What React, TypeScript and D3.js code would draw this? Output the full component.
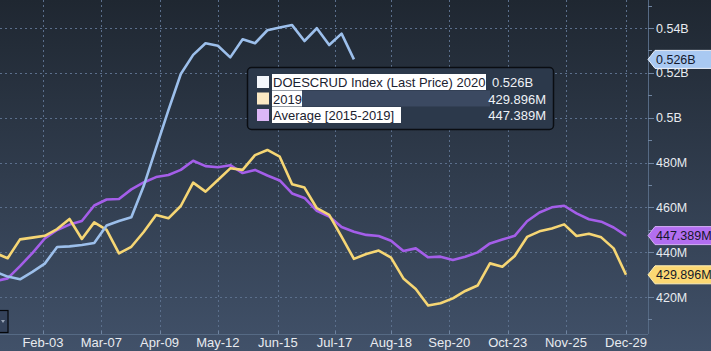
import * as d3 from 'd3';

// weekly readings, first point Jan-07 (just off the left edge)
const weekStart = new Date(2020, 0, 7);

const crude2020 = [431.2, 429.1, 427.9, 431.2, 434.9, 442.3, 442.6, 443.2, 444.1, 451.9, 453.9, 455.6,
  469.5, 486.5, 503.4, 519.5, 528.0, 533.2, 532.1, 526.9, 535.0, 533.2, 539.0, 540.2, 541.3, 534.2,
  539.9, 532.4, 537.5, 526.0];

const crude2019 = [439.6, 437.3, 445.7, 446.5, 447.3, 450.3, 454.8, 445.9, 453.3, 449.9, 439.5, 442.4,
  449.0, 456.6, 455.1, 460.6, 471.0, 467.0, 472.2, 477.4, 476.7, 483.3, 485.6, 482.6, 470.3, 468.8,
  459.6, 456.6, 446.9, 437.0, 439.2, 440.7, 437.6, 428.3, 423.6, 416.2, 417.2, 419.4, 422.7, 425.1,
  435.0, 433.5, 438.3, 446.8, 449.3, 450.6, 452.4, 447.2, 448.2, 446.6, 441.7, 429.896];

const average = [427.1, 428.3, 433.8, 439.6, 446.1, 449.9, 452.3, 453.9, 460.8, 463.5, 463.7, 468.0,
  471.1, 473.5, 474.4, 476.7, 480.8, 478.4, 477.9, 478.8, 475.3, 476.7, 474.2, 472.0, 466.2, 464.2,
  458.4, 455.9, 451.2, 449.1, 447.7, 447.2, 445.1, 440.5, 441.7, 437.7, 438.0, 436.5, 438.0, 439.9,
  443.9, 445.6, 447.3, 453.8, 457.7, 460.0, 460.7, 457.3, 454.7, 453.6, 451.0, 447.389];

const xTicks = [
  new Date(2020, 1, 3), new Date(2020, 2, 7), new Date(2020, 3, 9), new Date(2020, 4, 12),
  new Date(2020, 5, 15), new Date(2020, 6, 17), new Date(2020, 7, 18), new Date(2020, 8, 20),
  new Date(2020, 9, 23), new Date(2020, 10, 25), new Date(2020, 11, 29),
];
const yTicks = [420, 440, 460, 480, 500, 520, 540];
const yMinorTicks = [410, 430, 450, 470, 490, 510, 530, 550];

const legendNames = ['DOESCRUD Index (Last Price) 2020', '2019', 'Average [2015-2019]'];
const legendValues = ['0.526B', '429.896M', '447.389M'];
const lastValues = [526.0, 429.896, 447.389];

const W = 711;
const H = 351;
const plotR = 648;
const plotB = 334;

const BLUE = '#9cbfeb';
const YELLOW = '#f6d674';
const PURPLE = '#a45ee9';
const GRID = '#5b6f8c';
const FONT = '"Liberation Sans", Arial, sans-serif';

function fmtY(v: number) {
  return v >= 500 ? (v / 1000) + 'B' : v + 'M';
}

export default function App() {
  const x = d3.scaleTime()
    .domain([xTicks[0], xTicks[xTicks.length - 1]])
    .range([43, 626]);
  const y = d3.scaleLinear().domain([420, 540]).range([297, 28]);

  const dateAt = (i: number) => d3.timeDay.offset(weekStart, 7 * i);
  const line = d3.line<number>()
    .x((d, i) => x(dateAt(i)))
    .y(d => y(d));

  const series = [
    { values: average, color: PURPLE },
    { values: crude2019, color: YELLOW },
    { values: crude2020, color: BLUE },
  ];

  // right-hand value tags
  const tags = [
    { v: lastValues[0], text: legendValues[0], fill: '#a9c9f2', stroke: '#eef4ff' },
    { v: lastValues[2], text: legendValues[2], fill: '#b26ef0', stroke: '#d6aef8' },
    { v: lastValues[1], text: legendValues[1], fill: '#fcd873', stroke: '#fff0b8' },
  ];

  const swatches = ['#f4f7fc', '#fbe9c4', '#dcb7f6'];
  const hlWidths = [214, 30, 129];

  return (
    <svg width={W} height={H} style={{ position: 'absolute', left: 0, top: 0 }} fontFamily={FONT}>
      <defs>
        <linearGradient id="bg" x1="0" y1="0" x2="0" y2="1">
          <stop offset="0" stopColor="#1f2731" />
          <stop offset="1" stopColor="#415169" />
        </linearGradient>
        <clipPath id="plot">
          <rect x={0} y={0} width={plotR} height={plotB} />
        </clipPath>
      </defs>
      <rect width={W} height={H} fill="url(#bg)" />

      {/* grid */}
      <g stroke={GRID} strokeWidth={1} strokeDasharray="2,3">
        {yTicks.map(t => (
          <line key={t} x1={0} x2={plotR} y1={Math.round(y(t)) + 0.5} y2={Math.round(y(t)) + 0.5} />
        ))}
        {xTicks.map((t, i) => (
          <line key={i} x1={Math.round(x(t)) + 0.5} x2={Math.round(x(t)) + 0.5} y1={0} y2={plotB} />
        ))}
      </g>

      {/* axes */}
      <line x1={plotR + 0.5} x2={plotR + 0.5} y1={0} y2={plotB} stroke="#566a84" />
      <line x1={0} x2={plotR} y1={plotB + 0.5} y2={plotB + 0.5} stroke="#566a84" />
      <g stroke="#6f84a0">
        {yTicks.map(t => (
          <line key={t} x1={plotR} x2={plotR + 6} y1={Math.round(y(t)) + 0.5} y2={Math.round(y(t)) + 0.5} />
        ))}
        {yMinorTicks.map(t => (
          <line key={t} x1={plotR} x2={plotR + 4} y1={Math.round(y(t)) + 0.5} y2={Math.round(y(t)) + 0.5} />
        ))}
        {xTicks.map((t, i) => (
          <line key={i} x1={Math.round(x(t)) + 0.5} x2={Math.round(x(t)) + 0.5} y1={plotB - 3} y2={plotB} />
        ))}
      </g>
      <g fill="#e8ebf0" fontSize={12.5}>
        {yTicks.map(t => (
          <text key={t} x={656} y={y(t) + 4.5}>{fmtY(t)}</text>
        ))}
      </g>
      <g fill="#e8ebf0" fontSize={13} textAnchor="middle">
        {xTicks.map((t, i) => (
          <text key={i} x={x(t)} y={347}>{d3.timeFormat('%b-%d')(t)}</text>
        ))}
      </g>

      {/* series */}
      <g clipPath="url(#plot)" fill="none" strokeWidth={2.6} strokeLinejoin="round">
        {series.map((s, i) => (
          <path key={i} d={line(s.values) || ''} stroke={s.color} />
        ))}
      </g>

      {/* value tags */}
      {tags.map((t, i) => {
        const cy = y(t.v);
        const pts = [[648, cy], [655, cy - 9], [712, cy - 9], [712, cy + 9], [655, cy + 9]];
        return (
          <g key={i}>
            <polygon points={pts.map(p => p.join(',')).join(' ')} fill={t.fill} stroke={t.stroke} strokeWidth={1} />
            <text x={656} y={cy + 4.5} fontSize={12.5} fill="#14182a">{t.text}</text>
          </g>
        );
      })}

      {/* legend */}
      <g>
        <rect x={247.5} y={67.5} width={306} height={62} rx={4} fill="#2c394b" stroke="#0a0d12" strokeWidth={1.5} />
        {legendNames.map((name, i) => {
          const cy = 82 + i * 16.5;
          return (
            <g key={i}>
              <rect x={257} y={cy - 6} width={12} height={12} fill={swatches[i]} />
              {i === 1 && <rect x={302} y={cy - 8} width={188} height={16} fill="#3b4961" />}
              <rect x={272} y={cy - 8} width={hlWidths[i]} height={16} fill="#ffffff" />
              <text x={273} y={cy + 5} fontSize={13} fill="#1b2230">{name}</text>
              <text
                x={i === 0 ? 492 : 546}
                y={cy + 5}
                fontSize={13}
                fill="#eef1f6"
                textAnchor={i === 0 ? 'start' : 'end'}
              >
                {legendValues[i]}
              </text>
            </g>
          );
        })}
      </g>

      {/* small dropdown widget bottom-left */}
      <rect x={-1} y={310.5} width={9} height={22} fill="#34425a" stroke="#05070a" strokeWidth={1.2} />
      <path d="M1,320 L5,320 L3,323 Z" fill="#9aa6b8" />
    </svg>
  );
}
